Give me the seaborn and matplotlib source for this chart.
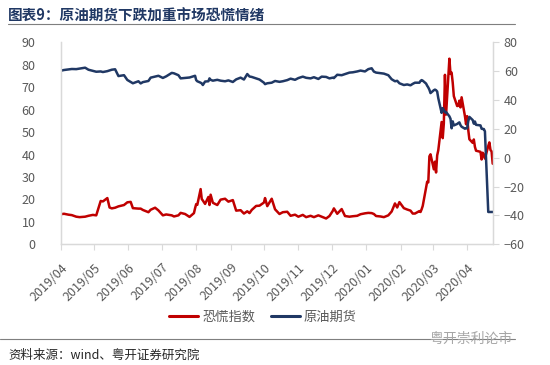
import pandas as pd
import matplotlib.pyplot as plt
import matplotlib.dates as mdates
from matplotlib.lines import Line2D
import seaborn as sns

# 日期（交易日，平稳期约每周两点，危机期逐日）
dates = [
    "2019-04-01", "2019-04-04", "2019-04-08", "2019-04-11", "2019-04-15", "2019-04-18",
    "2019-04-23", "2019-04-26", "2019-04-30", "2019-05-03", "2019-05-07", "2019-05-09",
    "2019-05-13", "2019-05-15", "2019-05-17", "2019-05-20", "2019-05-23", "2019-05-28",
    "2019-05-31", "2019-06-03", "2019-06-05", "2019-06-10", "2019-06-12", "2019-06-14",
    "2019-06-19", "2019-06-21", "2019-06-25", "2019-06-28", "2019-07-02", "2019-07-05",
    "2019-07-10", "2019-07-12", "2019-07-16", "2019-07-18", "2019-07-22", "2019-07-26",
    "2019-07-30", "2019-07-31", "2019-08-01", "2019-08-02", "2019-08-05", "2019-08-06",
    "2019-08-07", "2019-08-09", "2019-08-12", "2019-08-13", "2019-08-14", "2019-08-16",
    "2019-08-20", "2019-08-23", "2019-08-27", "2019-08-30", "2019-09-03", "2019-09-06",
    "2019-09-10", "2019-09-13", "2019-09-16", "2019-09-18", "2019-09-20", "2019-09-24",
    "2019-09-27", "2019-10-01", "2019-10-02", "2019-10-04", "2019-10-08", "2019-10-11",
    "2019-10-15", "2019-10-18", "2019-10-22", "2019-10-25", "2019-10-29", "2019-11-01",
    "2019-11-05", "2019-11-08", "2019-11-12", "2019-11-15", "2019-11-19", "2019-11-22",
    "2019-11-26", "2019-11-29", "2019-12-02", "2019-12-03", "2019-12-06", "2019-12-10",
    "2019-12-13", "2019-12-17", "2019-12-20", "2019-12-24", "2019-12-27", "2019-12-31",
    "2020-01-03", "2020-01-06", "2020-01-08", "2020-01-10", "2020-01-14", "2020-01-17",
    "2020-01-21", "2020-01-24", "2020-01-27", "2020-01-29", "2020-01-31", "2020-02-04",
    "2020-02-07", "2020-02-10", "2020-02-12", "2020-02-14", "2020-02-18", "2020-02-19",
    "2020-02-20", "2020-02-21", "2020-02-24", "2020-02-25", "2020-02-26", "2020-02-27",
    "2020-02-28", "2020-03-02", "2020-03-03", "2020-03-04", "2020-03-05", "2020-03-06",
    "2020-03-09", "2020-03-10", "2020-03-11", "2020-03-12", "2020-03-13", "2020-03-16",
    "2020-03-17", "2020-03-18", "2020-03-19", "2020-03-20", "2020-03-23", "2020-03-24",
    "2020-03-25", "2020-03-26", "2020-03-27", "2020-03-30", "2020-03-31", "2020-04-01",
    "2020-04-02", "2020-04-03", "2020-04-06", "2020-04-07", "2020-04-08", "2020-04-09",
    "2020-04-13", "2020-04-14", "2020-04-15", "2020-04-16", "2020-04-17", "2020-04-20",
    "2020-04-21", "2020-04-22", "2020-04-23", "2020-04-24",
]

# 恐慌指数（左轴）
vix = [
    13.4, 13.6, 13.2, 13.0, 12.3, 12.1,
    12.3, 12.7, 13.1, 12.9, 19.3, 19.1,
    20.6, 16.4, 16.0, 16.3, 16.9, 17.5,
    18.7, 18.9, 16.1, 15.9, 15.9, 15.3,
    14.3, 15.4, 16.3, 15.1, 12.9, 13.3,
    12.9, 12.4, 12.9, 14.0, 13.5, 12.2,
    13.9, 16.1, 17.9, 17.6, 24.6, 20.2,
    19.5, 18.0, 21.1, 17.5, 22.1, 18.5,
    17.5, 19.9, 20.3, 19.0, 19.7, 15.0,
    15.2, 13.7, 14.7, 13.9, 15.3, 17.1,
    17.2, 18.6, 20.6, 17.0, 20.3, 15.6,
    13.5, 14.3, 14.5, 12.7, 13.2, 12.3,
    13.1, 12.1, 12.7, 12.1, 12.9, 12.3,
    11.5, 12.6, 14.9, 16.0, 13.6, 15.7,
    12.6, 12.3, 12.5, 12.7, 13.4, 13.8,
    14.0, 13.9, 13.5, 12.6, 12.4, 12.1,
    12.9, 14.6, 18.2, 16.4, 18.8, 16.1,
    15.5, 15.0, 13.7, 13.7, 14.8, 14.4,
    15.6, 17.1, 25.0, 27.9, 27.6, 39.2,
    40.1, 33.4, 36.8, 32.0, 39.6, 41.9,
    54.5, 47.3, 53.9, 75.5, 57.8, 82.7,
    75.9, 76.5, 72.0, 66.0, 61.6, 61.7,
    64.0, 61.0, 65.5, 57.1, 53.5, 57.1,
    50.9, 46.8, 45.2, 46.7, 43.4, 41.7,
    41.2, 37.8, 40.8, 40.1, 38.2, 43.8,
    45.4, 42.0, 41.4, 35.9,
]

# 原油期货（右轴）
oil = [
    60.3, 60.8, 61.2, 61.5, 61.4, 61.8,
    62.4, 61.0, 60.2, 59.6, 59.8, 59.4,
    60.0, 60.5, 61.0, 61.3, 56.6, 57.2,
    53.9, 52.5, 51.6, 53.0, 51.5, 52.4,
    53.2, 55.5, 56.2, 56.8, 55.3, 56.4,
    58.8, 58.5, 57.2, 55.0, 55.3, 55.6,
    56.5, 56.8, 53.8, 53.0, 52.0, 51.5,
    50.4, 52.8, 53.0, 55.0, 54.0, 53.4,
    54.0, 53.4, 53.0, 53.6, 52.5, 54.3,
    55.5, 54.2, 58.0, 56.3, 56.0, 55.0,
    54.2, 52.0, 51.0, 51.6, 52.0, 53.2,
    52.6, 53.0, 53.8, 54.8, 54.0, 55.2,
    56.2, 55.4, 55.0, 55.8, 54.6, 56.2,
    56.0, 55.0, 55.5, 55.2, 57.5, 57.2,
    58.0, 59.0, 59.2, 59.8, 60.4, 59.8,
    61.4, 62.0, 59.7, 59.0, 58.6, 58.3,
    57.2, 54.4, 53.0, 53.3, 51.6, 50.4,
    50.8, 50.2, 51.2, 52.0, 52.0, 53.2,
    53.8, 53.4, 51.4, 49.9, 48.7, 47.1,
    44.8, 46.8, 47.2, 46.8, 45.9, 41.3,
    31.1, 34.4, 33.0, 31.5, 31.7, 28.7,
    27.0, 20.4, 25.2, 22.4, 23.4, 24.0,
    24.5, 22.6, 21.5, 20.1, 20.5, 20.3,
    25.3, 28.3, 26.1, 23.6, 25.1, 22.8,
    22.4, 20.1, 19.9, 19.9, 18.3, -37.6,
    -37.6, -37.6, -37.6, -37.6,
]

left_ticks = list(range(0, 91, 10))
right_ticks = list(range(-60, 81, 20))

df = pd.DataFrame({"date": pd.to_datetime(dates), "vix": vix, "oil": oil})

sns.set_theme(style="white")
plt.rcParams["font.family"] = ["Noto Sans CJK SC", "DejaVu Sans"]

red = "#C00000"
navy = "#203864"
axis_gray = "#D9D9D9"
label_gray = "#595959"

fig = plt.figure(figsize=(5.5, 3.65), dpi=100)
ax = fig.add_axes([60.7 / 550, 1 - 244.3 / 365, (492.7 - 60.7) / 550, (244.3 - 42.3) / 365])
ax2 = ax.twinx()

sns.lineplot(data=df, x="date", y="vix", ax=ax, color=red, linewidth=1.8, legend=False)
sns.lineplot(data=df, x="date", y="oil", ax=ax2, color=navy, linewidth=1.8, legend=False)

ax.set_xlim(pd.Timestamp("2019-04-01"), pd.Timestamp("2020-04-24"))
ax.set_ylim(0, 90)
ax2.set_ylim(-60, 80)
ax.set_yticks(left_ticks)
ax2.set_yticks(right_ticks)
ax.set_xlabel("")
ax.set_ylabel("")
ax2.set_ylabel("")

ax.xaxis.set_major_locator(mdates.MonthLocator())
ax.xaxis.set_major_formatter(mdates.DateFormatter("%Y/%m"))
for lab in ax.get_xticklabels():
    lab.set_rotation(45)
    lab.set_ha("right")
    lab.set_rotation_mode("anchor")

ax.tick_params(axis="x", bottom=True, length=4, width=0.8, color=axis_gray,
               labelsize=9, labelcolor=label_gray, pad=8)
ax.tick_params(axis="y", left=False, labelsize=9, labelcolor=label_gray, pad=12)
ax2.tick_params(axis="y", right=True, length=4, width=0.8, color=axis_gray,
                labelsize=9, labelcolor=label_gray, pad=4)

for a in (ax, ax2):
    a.spines["top"].set_visible(False)
    for s in ("left", "right", "bottom"):
        a.spines[s].set_color(axis_gray)
        a.spines[s].set_linewidth(0.9)
    a.grid(False)

handles = [Line2D([], [], color=red, linewidth=2.2), Line2D([], [], color=navy, linewidth=2.2)]
fig.legend(handles, ["恐慌指数", "原油期货"], loc="center", bbox_to_anchor=(263 / 550, 1 - 317 / 365),
           ncol=2, frameon=False, fontsize=9.5, handlelength=2.2, handletextpad=0.3,
           columnspacing=1.2, labelcolor=label_gray)

# 标题和底部说明
fig.text(8 / 550, 1 - 16 / 365, "图表9：原油期货下跌加重市场恐慌情绪", fontsize=10.5,
         fontweight="bold", color=navy, ha="left", va="center")
fig.add_artist(Line2D([8 / 550, 515 / 550], [1 - 24 / 365, 1 - 24 / 365], color="#7F7F7F", linewidth=0.8))
fig.add_artist(Line2D([0, 515 / 550], [1 - 339 / 365, 1 - 339 / 365], color="#7F7F7F", linewidth=0.8))
fig.text(8 / 550, 1 - 355 / 365, "资料来源：wind、粤开证券研究院", fontsize=9, style="italic",
         color="#262626", ha="left", va="center")
fig.text(512 / 550, 1 - 339 / 365, "粤开崇利论市", fontsize=10, color="#A6A6A6",
         ha="right", va="center")

fig.savefig("out.png", dpi=100)
